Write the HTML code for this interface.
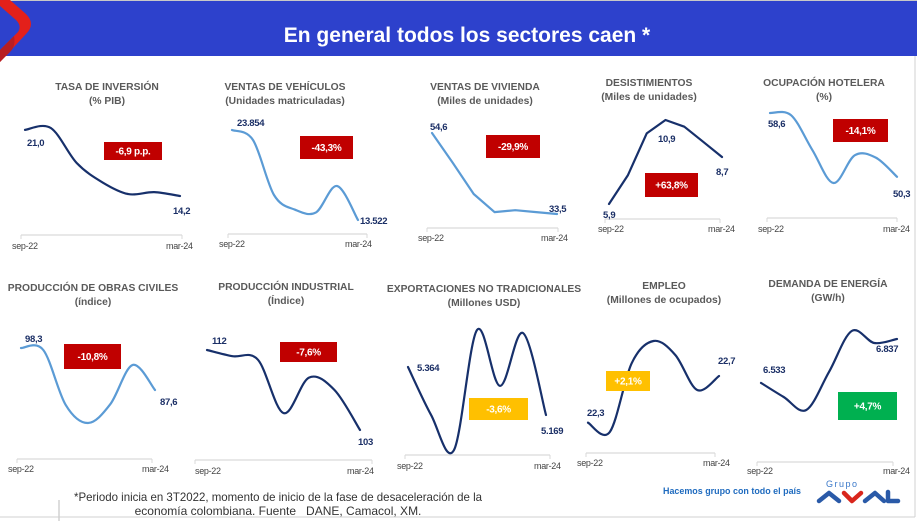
<!DOCTYPE html>
<html><head><meta charset="utf-8">
<style>
html,body{margin:0;padding:0;background:#fff;}
svg{display:block;font-family:"Liberation Sans",sans-serif;}
.ttl{font-size:10.3px;font-weight:bold;fill:#5a5a5a;text-anchor:middle;}
.lbl{font-size:9.5px;font-weight:bold;fill:#1b2f66;letter-spacing:-0.3px;}
.ax{font-size:9px;fill:#444;letter-spacing:-0.3px;}
.box{font-size:10px;font-weight:bold;fill:#fff;text-anchor:middle;letter-spacing:-0.3px;}
</style></head>
<body>
<svg id="page" width="917" height="521" viewBox="0 0 917 521">
  <line x1="0" y1="0.5" x2="917" y2="0.5" stroke="#c8c8c8" stroke-width="1"/>
  <rect x="0" y="1" width="917" height="55" fill="#2d41cc"/>
  <path d="M10,0 L26,14 Q36,24 26,34 L0,62 L0,50 L18,32 Q22,26 16,20 L0,6 L0,0 Z" fill="#e3201b"/>
  <path d="M0,50 L14,36 Q16,46 10,52 L0,62 Z" fill="#b81e22"/>
  <text x="467" y="42" text-anchor="middle" font-size="21" font-weight="bold" fill="#fff">En general todos los sectores caen *</text>
  <g id="charts"></g>
  <line x1="59" y1="500" x2="59" y2="521" stroke="#bbb" stroke-width="1"/>
  <text x="74" y="501" font-size="12" fill="#333" textLength="408" lengthAdjust="spacingAndGlyphs">*Periodo inicia en 3T2022, momento de inicio de la fase de desaceleración de la</text>
  <text x="278" y="515" font-size="12" fill="#333" text-anchor="middle">economía colombiana. Fuente_ DANE, Camacol, XM.</text>
  <text x="663" y="494" font-size="9.5" font-weight="bold" fill="#1f6bbf" textLength="138" lengthAdjust="spacingAndGlyphs">Hacemos grupo con todo el país</text>
  <text x="826" y="487" font-size="9" fill="#3a78c9" letter-spacing="1.5">Grupo</text>
  <g fill="none" stroke-width="4.5" stroke-linecap="round" stroke-linejoin="round">
    <polyline points="819,501 829,493 839,501" stroke="#2a5aa8"/>
    <polyline points="844,493 852,501 861,493" stroke="#d9261c"/>
    <polyline points="865,501 875,493 884,501" stroke="#2a5aa8"/>
    <polyline points="888,492 888,501 898,501" stroke="#2a5aa8"/>
  </g>
  <line x1="915" y1="56" x2="915" y2="517" stroke="#d0d0d0"/>
  <line x1="0" y1="517" x2="915" y2="517" stroke="#d0d0d0"/>
</svg>
<script>
// ---- data arrays ----
const periods = ["sep-22","dic-22","mar-23","jun-23","sep-23","dic-23","mar-24"];
const inversionValues = [21.0, 21.2, 17.6, 15.6, 14.4, 14.6, 14.2];
const vehiculosValues = [23854, 22706, 16392, 14700, 14400, 17425, 13522];
const viviendaValues = [54.6, 46.8, 38.7, 34.0, 34.5, 34.0, 33.5];
const desistimientosValues = [5.9, 7.6, 10.1, 10.9, 10.5, 9.6, 8.7];
const hoteleraValues = [58.6, 58.3, 53.8, 49.5, 53.1, 52.8, 50.3];
const obrasValues = [98.3, 97.8, 83.8, 79.2, 84.0, 94.0, 87.6];
const industrialValues = [112, 111.3, 110.9, 104.9, 108.9, 107.5, 103];
const exportacionesValues = [5364, 5170, 5027, 5514, 5287, 5502, 5169];
const empleoValues = [22.3, 22.22, 22.81, 23.0, 22.88, 22.58, 22.7];
const energiaValues = [6533, 6436, 6346, 6609, 6892, 6809, 6837];
const changeLabels = ["-6,9 p.p.","-43,3%","-29,9%","+63,8%","-14,1%","-10,8%","-7,6%","-3,6%","+2,1%","+4,7%"];
const valueLabels = [["21,0","14,2"],["23.854","13.522"],["54,6","33,5"],["5,9","10,9","8,7"],["58,6","50,3"],["98,3","87,6"],["112","103"],["5.364","5.169"],["22,3","22,7"],["6.533","6.837"]];

// ---- layout ----
const NAVY="#17306b", LIGHT="#5b9bd5", RED="#c00000", YEL="#ffc000", GRN="#00b050";
const panels = [
 {id:"tasa-inversion", t1:"TASA DE INVERSIÓN", t2:"(% PIB)", tx:107, ty:90, vals:inversionValues, x0:25,x1:180, yHi:128,yLo:196, color:NAVY, smooth:true,
  box:[104,142,58,18,RED], labs:[[27,146],[173,214]], axY:235, ax0:21, ax1:182, sx:12, mx:166, ly:249},
 {id:"ventas-vehiculos", t1:"VENTAS DE VEHÍCULOS", t2:"(Unidades matriculadas)", tx:285, ty:90, vals:vehiculosValues, x0:232,x1:358, yHi:130,yLo:220, color:LIGHT, smooth:true,
  box:[300,136,53,23,RED], labs:[[237,126],[360,224]], axY:234, ax0:228, ax1:367, sx:219, mx:345, ly:247, big:true},
 {id:"ventas-vivienda", t1:"VENTAS DE VIVIENDA", t2:"(Miles de unidades)", tx:485, ty:90, vals:viviendaValues, x0:432,x1:557, yHi:133,yLo:214, color:LIGHT, smooth:false,
  box:[486,135,54,23,RED], labs:[[430,130],[549,212]], axY:228, ax0:427, ax1:558, sx:418, mx:541, ly:241},
 {id:"desistimientos", t1:"DESISTIMIENTOS", t2:"(Miles de unidades)", tx:649, ty:86, vals:desistimientosValues, x0:609,x1:722, yHi:120,yLo:204, color:NAVY, smooth:false,
  box:[645,173,53,24,RED], labs:[[603,218],[658,142],[716,175]], axY:219, ax0:605, ax1:720, sx:598, mx:708, ly:232},
 {id:"ocupacion-hotelera", t1:"OCUPACIÓN HOTELERA", t2:"(%)", tx:824, ty:86, vals:hoteleraValues, x0:770,x1:897, yHi:113,yLo:183, color:LIGHT, smooth:true,
  box:[833,119,55,23,RED], labs:[[768,127],[893,197]], axY:218, ax0:767, ax1:897, sx:758, mx:883, ly:232},
 {id:"obras-civiles", t1:"PRODUCCIÓN DE OBRAS CIVILES", t2:"(índice)", tx:93, ty:291, vals:obrasValues, x0:21,x1:155, yHi:348,yLo:423, color:LIGHT, smooth:true,
  box:[64,344,57,25,RED], labs:[[25,342],[160,405]], axY:459, ax0:17, ax1:152, sx:8, mx:142, ly:472, big:true},
 {id:"produccion-industrial", t1:"PRODUCCIÓN INDUSTRIAL", t2:"(Índice)", tx:286, ty:290, vals:industrialValues, x0:207,x1:360, yHi:350,yLo:430, color:NAVY, smooth:true,
  box:[280,342,57,20,RED], labs:[[212,344],[358,445]], axY:460, ax0:195, ax1:372, sx:195, mx:347, ly:474},
 {id:"exportaciones-no-tradicionales", t1:"EXPORTACIONES NO TRADICIONALES", t2:"(Millones USD)", tx:484, ty:292, vals:exportacionesValues, x0:408,x1:546, yHi:330,yLo:450, color:NAVY, smooth:true,
  box:[469,398,59,22,YEL], labs:[[417,371],[541,434]], axY:455, ax0:405, ax1:550, sx:397, mx:534, ly:469},
 {id:"empleo", t1:"EMPLEO", t2:"(Millones de ocupados)", tx:664, ty:289, vals:empleoValues, x0:588,x1:719, yHi:341,yLo:432, color:NAVY, smooth:true,
  box:[606,371,44,20,YEL], labs:[[587,416],[718,364]], axY:453, ax0:586, ax1:715, sx:577, mx:703, ly:466},
 {id:"demanda-energia", t1:"DEMANDA DE ENERGÍA", t2:"(GW/h)", tx:828, ty:287, vals:energiaValues, x0:761,x1:897, yHi:331,yLo:410, color:NAVY, smooth:true,
  box:[838,392,59,28,GRN], labs:[[763,373],[876,352]], axY:462, ax0:757, ax1:893, sx:747, mx:883, ly:474}
];
const NS="http://www.w3.org/2000/svg";
const root=document.getElementById("charts");
function mk(tag,attrs,parent){const e=document.createElementNS(NS,tag);for(const k in attrs)e.setAttribute(k,attrs[k]);parent.appendChild(e);return e;}
function xScale(p,i,n){return p.x0+(p.x1-p.x0)*i/(n-1);}
function yScale(p,v){const mx=Math.max(...p.vals),mn=Math.min(...p.vals);return p.yLo+(v-mn)/(mx-mn)*(p.yHi-p.yLo);}
function pathFor(pts,smooth){
  let d="M"+pts[0][0].toFixed(1)+","+pts[0][1].toFixed(1);
  for(let i=0;i<pts.length-1;i++){
    if(!smooth){d+=" L"+pts[i+1][0].toFixed(1)+","+pts[i+1][1].toFixed(1);continue;}
    const p0=pts[Math.max(0,i-1)],p1=pts[i],p2=pts[i+1],p3=pts[Math.min(pts.length-1,i+2)];
    const c1=[p1[0]+(p2[0]-p0[0])/6,p1[1]+(p2[1]-p0[1])/6];
    const c2=[p2[0]-(p3[0]-p1[0])/6,p2[1]-(p3[1]-p1[1])/6];
    d+=" C"+c1.map(v=>v.toFixed(1)).join(",")+" "+c2.map(v=>v.toFixed(1)).join(",")+" "+p2[0].toFixed(1)+","+p2[1].toFixed(1);
  }
  return d;
}
panels.forEach((p,k)=>{
  const g=mk("g",{},root);
  
  
  const t1=mk("text",{x:p.tx,y:p.ty,class:"ttl"},g); t1.textContent=p.t1;
  
  
  const t2=mk("text",{x:p.tx,y:p.ty+14,class:"ttl"},g); t2.textContent=p.t2;
  
  
  const ax=mk("line",{x1:p.ax0,y1:p.axY,x2:p.ax1,y2:p.axY,stroke:"#d9d9d9","stroke-width":1.2},g);
  
  
  [p.ax0,p.ax1].forEach(xx=>{const tk=mk("line",{x1:xx,y1:p.axY,x2:xx,y2:p.axY+4,stroke:"#d9d9d9"},g);
    
    });
  const s=mk("text",{x:p.sx,y:p.ly,class:"ax"},g); s.textContent=periods[0];
  
  
  const m=mk("text",{x:p.mx,y:p.ly,class:"ax"},g); m.textContent=periods[periods.length-1];
  
  
  const n=p.vals.length;
  const pts=p.vals.map((v,i)=>[xScale(p,i,n),yScale(p,v)]);
  const ln=mk("path",{d:pathFor(pts,p.smooth),fill:"none",stroke:p.color,"stroke-width":2.2,"stroke-linecap":"round","stroke-linejoin":"round"},g);
  
  
  const b=p.box;
  const r=mk("rect",{x:b[0],y:b[1],width:b[2],height:b[3],fill:b[4]},g);
  
  
  const bt=mk("text",{x:b[0]+b[2]/2,y:b[1]+b[3]/2+3.5,class:"box"},g); bt.textContent=changeLabels[k];
  
  
  valueLabels[k].forEach((txt,j)=>{
    const L=p.labs[j];
    const lt=mk("text",{x:L[0],y:L[1],class:"lbl","font-size":p.big?"11px":"9.5px"},g); lt.textContent=txt;
    
    
  });
});
</script>
</body></html>
